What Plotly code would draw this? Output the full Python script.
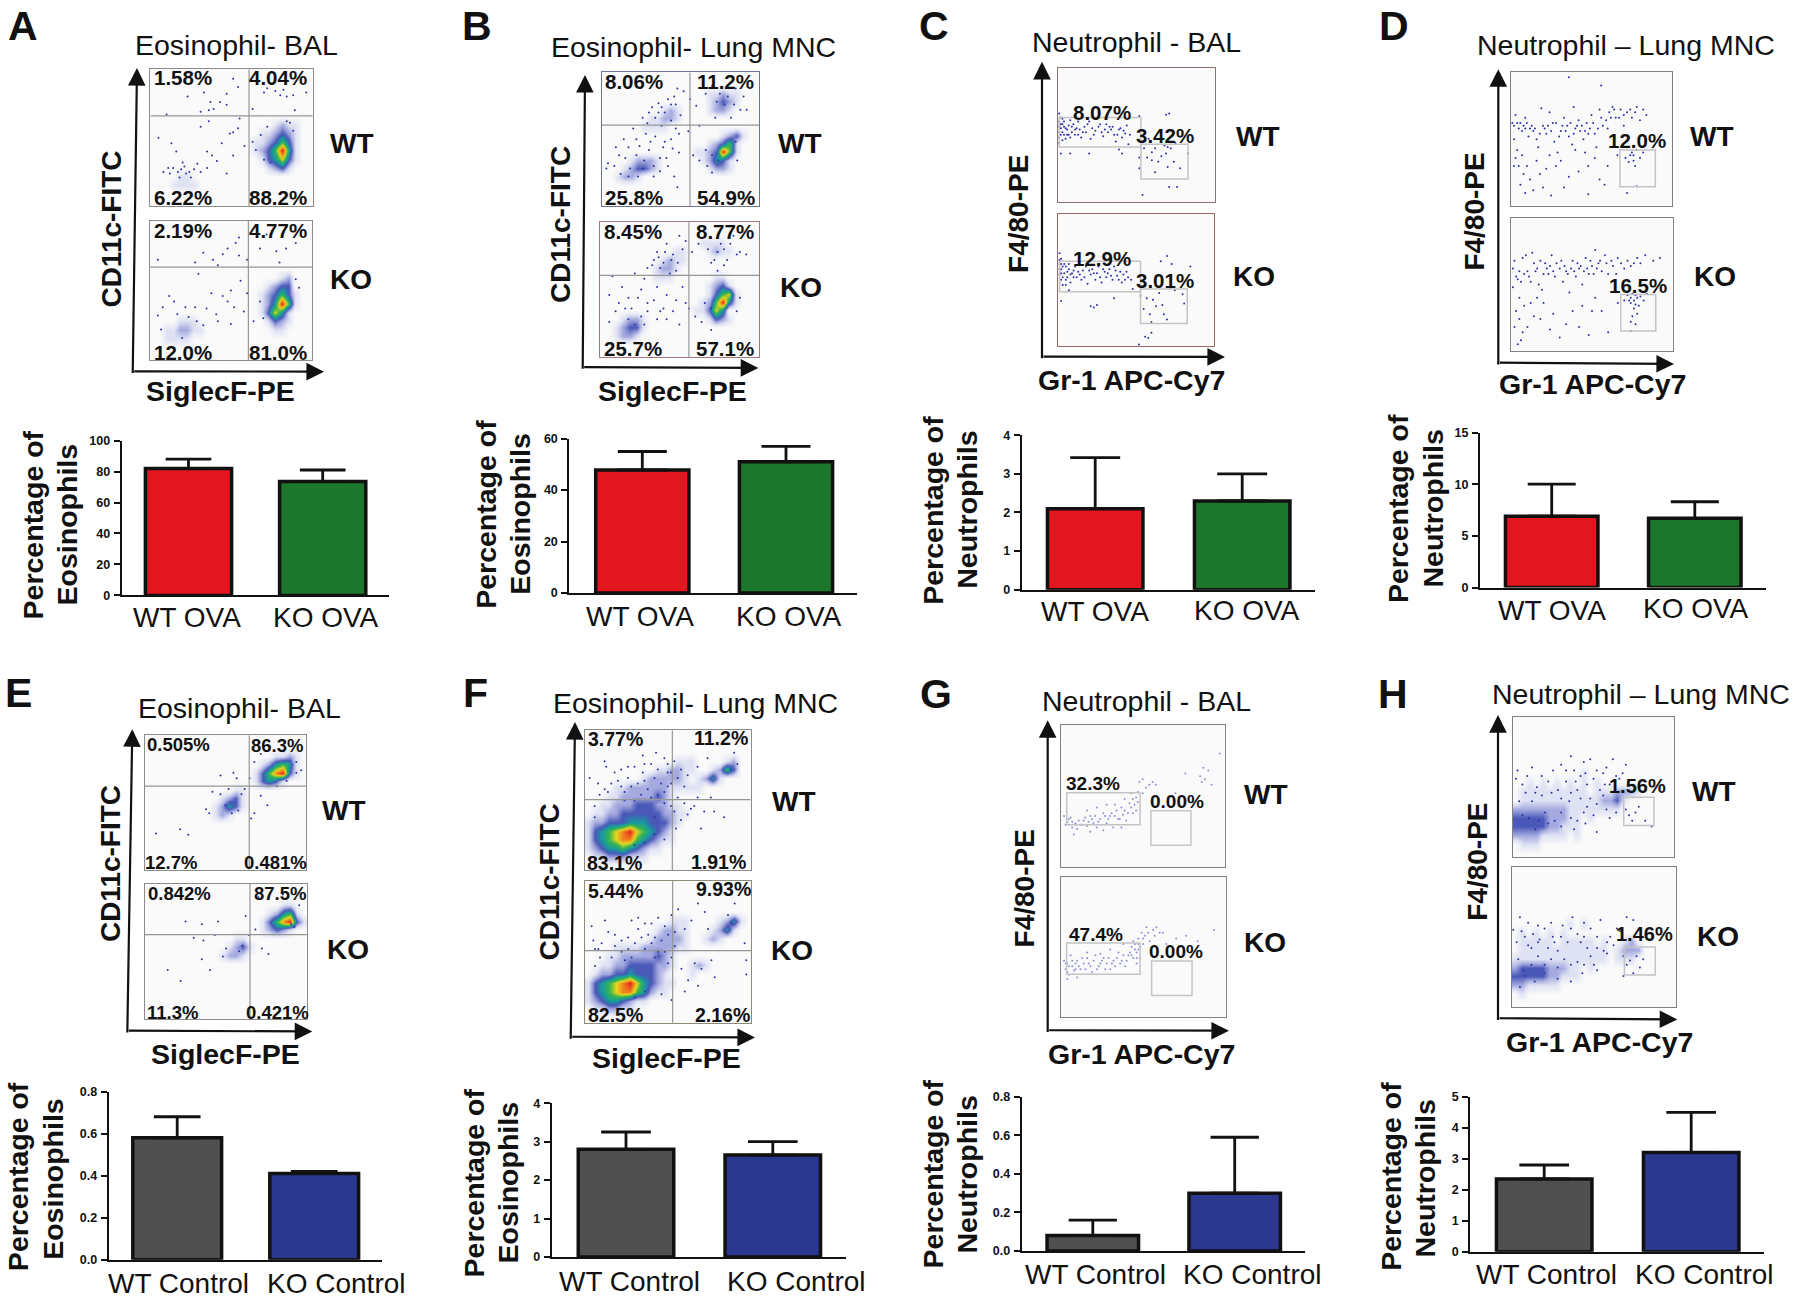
import plotly.graph_objects as go

W, H = 1800, 1301
SANS = "Liberation Sans"

# ---------- bar chart data ----------
OVA_CATS = ["WT OVA", "KO OVA"]
CTRL_CATS = ["WT Control", "KO Control"]
OVA_COLORS = ["#e3151f", "#1c762b"]
CTRL_COLORS = ["#505050", "#2c388f"]

A_MEAN = [82, 73.5];  A_TOP = [88, 81];   A_TICKS = [0, 20, 40, 60, 80, 100]
B_MEAN = [47.8, 51];  B_TOP = [55, 57];   B_TICKS = [0, 20, 40, 60]
C_MEAN = [2.1, 2.3];  C_TOP = [3.42, 3.0]; C_TICKS = [0, 1, 2, 3, 4]
D_MEAN = [6.9, 6.7];  D_TOP = [10, 8.3];  D_TICKS = [0, 5, 10, 15]
E_MEAN = [0.58, 0.41]; E_TOP = [0.68, 0.42]; E_TICKS = ["0.0", "0.2", "0.4", "0.6", "0.8"]
F_MEAN = [2.8, 2.65]; F_TOP = [3.25, 3.0]; F_TICKS = [0, 1, 2, 3, 4]
G_MEAN = [0.08, 0.30]; G_TOP = [0.16, 0.59]; G_TICKS = ["0.0", "0.2", "0.4", "0.6", "0.8"]
H_MEAN = [2.35, 3.2]; H_TOP = [2.8, 4.5]; H_TICKS = [0, 1, 2, 3, 4, 5]

# ---------- flow plot labels ----------
A_WT_PCT = ["1.58%", "4.04%", "6.22%", "88.2%"]; A_KO_PCT = ["2.19%", "4.77%", "12.0%", "81.0%"]
B_WT_PCT = ["8.06%", "11.2%", "25.8%", "54.9%"]; B_KO_PCT = ["8.45%", "8.77%", "25.7%", "57.1%"]
C_WT_PCT = ["8.07%", "3.42%"]; C_KO_PCT = ["12.9%", "3.01%"]
D_WT_PCT = ["12.0%"]; D_KO_PCT = ["16.5%"]
E_WT_PCT = ["0.505%", "86.3%", "12.7%", "0.481%"]; E_KO_PCT = ["0.842%", "87.5%", "11.3%", "0.421%"]
F_WT_PCT = ["3.77%", "11.2%", "83.1%", "1.91%"]; F_KO_PCT = ["5.44%", "9.93%", "82.5%", "2.16%"]
G_WT_PCT = ["32.3%", "0.00%"]; G_KO_PCT = ["47.4%", "0.00%"]
H_WT_PCT = ["1.56%"]; H_KO_PCT = ["1.46%"]

# ---------- density: 24 columns by up to 16 rows, top row first ----------
A_WT_GRID = ["", "", "", "", "", "", "..................1211", "................112321", "...............1123531",
             "...............1235841", "................134631", ".................1231", "....11", "...1111"]
A_KO_GRID = ["", "", "", "", "", "", "...................12", ".................1233", "................123531",
             "................124851", "................13641", "....111..........1321", "..112211..........11", "..1111"]
B_WT_GRID = ["", "", "................11211", "................12321", ".........121....1221", ".......11221", "......1111",
             "..................1231", "................12351", "..............1123851", "....12221......12431",
             "...123321.......1221", "..1221"]
B_KO_GRID = ["", "", "...............1111", "...........11...1211", ".........1211", "........1221", "........111......11",
             "................1231", "................13561", "...............125841", "..............11364", "...1221.........1321",
             "..12331", "..1221"]
E_WT_GRID = ["", "", "...................1121", ".................124541", "................1357831", "................13431",
             ".............11", "...........1231", "..........12431", "..........121"]
E_KO_GRID = ["", "", "....................11", "..................12451", ".................1357831", ".................12321",
             ".............11", "............1231", "...........1221"]
F_WT_GRID = ["", "", "", ".............111....12", "..........112211..1253", "........1222221.1241", "....1122222211111",
             "...1122222321", "..112223332211", ".11223333332211", "12233344433321", "1345678654321", "1345677543211",
             "12344543211", ".11222111"]
F_KO_GRID = ["", "", "", "", "............111....1241", "..........12211...1241", ".........122221..121",
             "....11112222211", "...1122222321", "..11223333221..121", ".12233433321...1", "1345678643211", "134567754211",
             "123443211", ".112211"]
H_WT_GRID = ["", "", "", "", "", "", "..........1", "..1.1.1.1.1.1", ".1111111111.1112221", ".1111111111112231",
             "2222222211111111", "3333322211.1", "3333322111", "22221111.1", ".111"]
H_KO_GRID = ["", "", "", "", "", "", "........1.1", ".1.1.1.1.", ".11111.11111.1..12", ".1111111111111.1222",
             "11111111111111.111", "2333322211.1", "3333322111", "2211111", ".1"]

# ---------- single events: (percent across, percent up) ----------
A_WT_DOTS = [(51,93),(54,87),(33,83),(47,82),(37,76),(43,76),(47,74),(36,70),(31,69),(39,71),(23,80),(10,67),(70,83),(80,81),(84,80),(72,86),
             (77,84),(88,81),(63,71),(89,70),(96,83),(82,85),(54,57),(49,53),(51,54),(31,58),(36,62),(55,64),(44,46),(35,40),(51,37),(13,46),
             (5,50),(16,40),(14,28),(19,27),(22,24),(25,21),(8,25),(12,24),(18,21),(29,31),(31,25),(20,32),(35,28),(47,24),(63,47),(65,41),
             (70,34),(88,55),(86,61),(74,32),(17,25),(21,29),(27,27),(11,28),(24,25),(41,33),(38,37),(58,44),(68,52),(72,58),(84,62)]
A_KO_DOTS = [(55,88),(53,84),(48,80),(45,76),(39,72),(33,77),(28,70),(5,72),(42,68),(68,80),(78,78),(84,80),(90,84),(72,90),(60,72),(55,75),
             (30,62),(50,50),(56,57),(60,48),(45,46),(48,42),(38,48),(28,38),(12,46),(8,38),(5,32),(52,38),(58,35),(64,28),(90,58),(92,52),
             (68,42),(70,30),(80,70),(17,33),(24,31),(29,28),(33,25),(7,22),(20,16),(41,33),(35,37),(42,28),(15,42),(22,38),(50,26)]
B_WT_DOTS = [(48,88),(52,86),(42,80),(36,77),(47,76),(30,70),(26,66),(38,74),(50,68),(44,64),(20,58),(14,50),(9,44),(4,32),(3,28),(24,45),
             (34,52),(40,48),(45,43),(49,40),(30,42),(37,36),(8,30),(15,36),(42,30),(46,22),(48,14),(55,56),(58,38),(62,34),(67,30),(70,25),
             (72,66),(73,78),(66,84),(70,90),(82,66),(88,72),(90,82),(85,88),(92,72),(86,34),(60,75),(56,80),(28,54),(18,28),(12,24),(33,22),
             (26,28),(41,36),(47,58),(38,60),(31,48),(22,38),(62,60),(85,48),(32,74),(36,70),(40,70),(44,76),(46,82),(34,66),(29,62),(22,50),
             (17,44),(11,38),(27,34),(33,30),(37,26),(23,22),(17,22),(39,44),(44,50),(49,54),(66,42),(70,38),(74,34),(78,76),(84,76),(75,84),(80,82)]
B_KO_DOTS = [(50,90),(54,86),(42,84),(36,78),(46,76),(40,70),(34,72),(30,66),(48,64),(44,62),(22,62),(8,60),(14,52),(6,46),(18,44),(26,50),
             (36,52),(42,46),(48,42),(54,40),(30,40),(38,34),(22,24),(10,34),(6,26),(42,28),(50,24),(56,36),(60,30),(64,26),(72,72),(68,80),
             (76,84),(84,90),(88,78),(92,76),(80,72),(74,64),(58,78),(62,84),(88,44),(86,34),(70,20),(16,36),(26,30),(34,42),(52,52),(28,58),
             (37,74),(41,78),(45,72),(49,70),(52,80),(33,68),(38,66),(12,40),(20,36),(24,44),(30,34),(36,28),(40,36),(46,34),(18,28),(28,24),
             (66,40),(70,36),(74,78),(78,80),(82,84),(86,76),(70,70),(78,68)]
C_WT_DOTS = [(1,66),(2,63),(1,60),(3,58),(2,55),(1,52),(3,52),(4,60),(5,55),(6,50),(7,57),(8,61),(9,52),(10,58),(11,50),(12,55),(13,60),(14,54),
             (15,48),(17,56),(18,52),(20,60),(21,47),(23,50),(25,63),(26,56),(28,52),(29,49),(31,58),(33,56),(34,54),(36,50),(37,45),(39,54),(41,48),
             (43,51),(44,57),(45,43),(46,50),(3,46),(5,47),(8,48),(2,36),(8,36),(20,36),(39,39),(41,36),(52,64),(58,47),(55,40),(57,33),(60,37),(62,40),
             (64,30),(66,34),(68,42),(69,36),(70,26),(72,40),(75,44),(74,30),(78,25),(70,41),(52,33),(52,25),(62,22),(60,31),(71,11),(76,11),(54,5),(69,65),(71,66),(83,36),
             (1,56),(2,58),(1,48),(2,50),(3,62),(4,50),(4,56),(6,54),(7,50),(9,56),(11,54),(13,50),(16,52),(19,58),(22,55),(24,53),(27,58),(30,54),(32,52),(35,56),(38,50),(40,55),(42,53),(1,44)]
C_KO_DOTS = [(1,70),(1,65),(2,62),(1,58),(3,60),(2,55),(4,55),(2,50),(3,46),(5,60),(6,52),(7,58),(8,48),(9,55),(11,60),(12,52),(13,56),(15,50),
             (16,57),(18,60),(19,47),(21,54),(22,58),(24,50),(25,55),(26,60),(28,48),(30,56),(31,52),(33,58),(35,50),(36,60),(38,53),(40,56),(41,48),
             (43,50),(45,52),(47,50),(5,46),(7,42),(2,34),(21,30),(23,29),(25,31),(36,36),(48,43),(53,38),(55,28),(57,36),(59,24),(60,18),(61,35),(63,30),
             (65,40),(67,31),(68,24),(70,20),(72,44),(75,42),(80,39),(81,32),(56,7),(58,6),(52,1),(60,10),(66,64),(70,68),(73,62),(85,60),
             (1,62),(2,58),(1,54),(2,66),(3,52),(4,62),(5,50),(6,56),(7,62),(8,54),(10,52),(10,57),(14,54),(17,52),(20,57),(23,55),(27,52),(29,58),(32,55),(34,53),(37,57),(39,50),(42,54),(44,56)]
D_WT_DOTS = [(1,62),(3,68),(2,50),(5,58),(6,62),(8,60),(9,66),(4,42),(7,38),(10,30),(11,52),(12,58),(14,56),(16,50),(17,44),(19,73),(20,60),(22,54),(24,70),(26,62),
             (27,48),(29,40),(31,56),(33,66),(35,60),(36,52),(38,46),(39,74),(40,58),(42,64),(43,56),(45,50),(47,62),(49,58),(50,68),(52,54),(53,44),(55,72),(57,60),
             (59,64),(61,70),(63,74),(65,66),(68,72),(72,70),(75,66),(78,74),(80,64),(84,68),(70,60),(2,30),(6,16),(9,10),(14,12),(20,14),(25,8),(22,28),(28,30),(36,22),
             (42,26),(48,30),(55,20),(58,16),(48,9),(36,96),(56,90),(72,44),(74,38),(75,40),(76,38),(78,42),(76,34),(80,36),(73,33),(71,36),(82,40),(77,30),(78,15),(72,10),(66,38),
             (2,60),(4,62),(7,56),(9,58),(10,62),(13,60),(15,58),(18,54),(21,58),(23,60),(25,56),(28,62),(30,52),(32,60),(34,56),(37,62),(39,54),(41,60),(44,60),(46,56),(48,54),(51,62),
             (54,58),(56,66),(60,58),(62,66),(64,72),(67,66),(70,68),(74,72),(77,70),(82,72),(3,36),(5,30),(8,24),(12,20),(16,34),(18,24),(24,38),(31,34),(33,14),(40,42),(46,40),(52,36),(60,30)]
D_KO_DOTS = [(1,62),(2,68),(1,48),(4,54),(6,52),(7,70),(9,72),(5,40),(3,30),(2,18),(8,34),(11,56),(13,74),(15,60),(17,50),(19,46),(21,66),(23,58),(25,72),(27,56),
             (30,62),(32,52),(34,60),(36,44),(38,68),(40,56),(42,62),(44,50),(46,70),(48,58),(50,64),(52,76),(54,66),(56,60),(58,72),(60,58),(62,68),(66,70),(70,62),(74,64),
             (78,70),(83,72),(88,68),(92,70),(10,18),(14,26),(18,24),(24,16),(30,10),(34,20),(44,34),(50,30),(48,12),(56,30),(60,14),(66,36),(72,42),(74,40),(75,43),(76,38),
             (78,40),(74,36),(77,35),(79,34),(80,41),(76,32),(78,28),(75,26),(74,22),(77,20),(74,15),(82,38),(84,43),(70,38),(4,5),(6,8),
             (3,56),(5,60),(8,58),(10,60),(12,52),(14,66),(16,62),(18,68),(20,58),(22,62),(24,64),(26,60),(28,66),(31,68),(33,64),(35,58),(37,62),(39,60),(41,66),(43,64),(45,60),(47,62),
             (49,68),(51,58),(53,62),(55,68),(59,66),(63,64),(65,58),(68,66),(72,68),(76,66),(80,66),(5,24),(7,14),(12,36),(16,40),(20,36),(26,28),(38,30),(42,18),(52,40),(73,38),(77,42)]
E_WT_DOTS = [(55,72),(57,68),(52,60),(42,58),(47,56),(40,42),(38,45),(50,48),(54,42),(58,44),(66,38),(68,42),(72,55),(76,48),(82,62),(88,66),(94,80),(97,74),
             (62,60),(65,68),(68,80),(94,72),(7,27),(27,26),(22,30),(60,56),(47,70),(86,88),(72,86)]
E_KO_DOTS = [(45,72),(35,70),(25,72),(43,62),(30,60),(36,58),(50,52),(48,46),(40,36),(35,44),(60,54),(64,62),(68,66),(72,52),(92,68),(95,84),(90,70),(62,76),
             (14,36),(22,28),(58,50),(70,90),(85,92),(76,48)]
F_WT_DOTS = [(3,66),(8,62),(13,74),(18,70),(9,54),(14,56),(22,60),(26,66),(30,74),(35,70),(40,76),(44,72),(48,80),(50,70),(52,62),(54,78),(58,72),(62,68),(68,74),
             (74,80),(90,84),(92,76),(56,52),(60,48),(64,44),(62,40),(66,46),(72,42),(78,42),(84,38),(70,30),(55,30),(48,22),(42,26),(36,20),(30,18),(12,78),(6,46),(54,42),
             (58,36),(68,52),(76,52),(50,60),(43,84),(35,82),(6,38),(88,72),(80,90),(24,50),(42,38),
             (20,64),(24,56),(28,60),(32,62),(36,64),(38,58),(42,66),(46,62),(48,56),(52,70),(56,66),(60,60),(30,50),(34,54),(40,52),(44,54),(48,48),(52,46),(26,74),(22,72),(16,62),(12,58),(36,76),(50,76)]
F_KO_DOTS = [(5,58),(9,46),(14,64),(18,54),(8,52),(22,50),(26,60),(28,72),(32,66),(36,52),(40,56),(44,74),(48,68),(52,76),(56,80),(60,66),(64,72),(68,84),(72,78),
             (90,84),(88,70),(54,54),(58,38),(62,30),(66,42),(70,38),(76,44),(78,32),(68,26),(60,22),(52,16),(46,20),(36,22),(30,18),(6,40),(4,68),(50,42),(86,76),(96,56),(97,44),(97,34),
             (42,46),(24,44),(12,72),(74,66),
             (18,62),(22,58),(26,52),(30,56),(34,60),(38,62),(42,60),(46,58),(50,62),(54,64),(40,70),(36,70),(32,74),(48,50),(52,46),(44,50),(28,46),(16,46),(10,56),(6,52)]
G_WT_DOTS = [(2,36),(4,32),(5,30),(7,28),(9,31),(6,35),(10,27),(12,30),(14,33),(16,29),(18,36),(20,31),(22,28),(24,34),(26,38),(28,31),(30,36),(32,28),(34,40),(36,34),(38,37),(40,33),
             (42,45),(44,38),(46,49),(39,48),(33,44),(28,44),(22,42),(16,40),(47,53),(43,52),(48,60),(50,62),(52,56),(54,58),(56,60),(58,58),(50,52),(60,48),(68,50),(70,52),(74,50),(76,66),
             (85,64),(86,60),(88,62),(90,68),(92,58),(87,70),(97,80),(8,23),(18,25),(26,26),(37,28),
             (3,30),(5,34),(7,32),(9,30),(11,33),(13,30),(15,35),(17,32),(19,34),(21,36),(23,32),(25,30),(27,36),(29,34),(31,38),(33,36),(35,34),(37,42),(39,40),(41,38),(43,42),(45,44),(46,40),(47,46),(44,48)]
G_KO_DOTS = [(2,40),(3,34),(4,38),(5,30),(6,44),(8,33),(9,38),(11,36),(13,42),(15,34),(17,38),(19,32),(21,44),(23,36),(25,40),(27,34),(29,42),(31,38),(33,36),(35,46),(37,40),(39,36),(41,44),
             (43,50),(44,42),(45,52),(46,46),(47,56),(48,50),(46,38),(38,52),(30,48),(50,52),(51,58),(52,64),(53,60),(54,54),(56,62),(57,58),(58,64),(60,60),(62,60),(64,52),(70,56),(76,58),(83,54),(93,62),
             (48,42),(24,45),(16,46),(4,27),(10,28),
             (3,38),(4,32),(5,36),(7,36),(7,40),(9,34),(10,40),(12,34),(14,38),(16,42),(18,36),(20,40),(22,34),(24,38),(26,42),(28,38),(30,34),(32,40),(34,42),(36,38),(38,44),(40,40),(42,46),(43,44),(45,48),(47,48),(46,42),(44,54),(47,52),(49,60),(50,56)]
H_WT_DOTS = [(3,62),(2,56),(6,52),(9,58),(12,64),(15,50),(18,58),(22,54),(25,62),(28,48),(30,66),(33,54),(36,72),(38,62),(40,48),(42,58),(44,68),(46,52),(48,70),(50,56),(52,62),
             (54,48),(56,60),(48,42),(38,20),(45,24),(52,18),(14,20),(22,24),(30,22),(58,34),(60,28),(64,32),(66,56),(68,60),(70,34),(72,30),(74,26),(76,32),(78,36),(82,26),(86,22),
             (70,66),(73,55),(62,70),(58,64),(57,52),(50,30),(35,40),(12,40),
             (6,30),(10,28),(16,26),(20,32),(26,26),(30,32),(36,28),(40,26),(44,32),(18,44),(24,46),(30,42),(36,46),(42,42),(46,36),(52,38),(56,44),(60,52),(64,58),(8,46),(4,40),(14,46),(33,62),(39,54),(45,60)]
H_KO_DOTS = [(1,55),(3,46),(6,54),(8,50),(10,44),(13,52),(17,48),(20,56),(22,42),(25,50),(28,40),(31,58),(34,46),(37,64),(40,52),(42,46),(44,60),(46,42),(48,56),(50,30),(52,50),
             (54,62),(56,40),(58,46),(60,50),(43,24),(36,18),(28,20),(20,24),(14,18),(8,22),(52,26),(62,44),(66,54),(68,36),(70,30),(72,33),(74,24),(76,36),(80,34),(78,28),(68,22),
             (74,62),(70,64),(64,56),(5,14),(5,64),
             (4,34),(7,26),(12,30),(16,36),(20,30),(24,34),(28,28),(32,34),(36,30),(40,32),(44,30),(48,36),(12,42),(16,46),(26,46),(30,50),(36,56),(44,50),(52,42),(58,38),(24,60),(16,58),(10,60)]

# ---------- gates, in percent of each flow plot: (x0, x1, y0, y1) ----------
C_WT_GATES = [(1, 53, 41, 63), (53, 83, 17, 43)]
C_KO_GATES = [(1, 53, 41, 64), (53, 83, 17, 43)]
D_WT_GATES = [(67.6, 89.5, 14.6, 42)]
D_KO_GATES = [(67.8, 89.5, 15, 42.5)]
G_WT_GATES = [(3.7, 48.4, 30, 52.4), (55, 79.4, 15.5, 39.7)]
G_KO_GATES = [(3.6, 48.1, 30.4, 52.7), (55.1, 79.6, 15.2, 39.8)]
H_WT_GATES = [(68.7, 87.4, 22.6, 42.9)]
H_KO_GATES = [(68.6, 87.4, 22.6, 42.7)]

# ---------- quadrant lines, percent across and up ----------
A_WT_Q = (60.8, 66); A_KO_Q = (60.8, 66.7)
B_WT_Q = (56, 60.6); B_KO_Q = (56, 60.6)
E_WT_Q = (64.8, 62.2); E_KO_Q = (64.7, 62.3)
F_WT_Q = (52.8, 50.6); F_KO_Q = (52.7, 50.8)

# ---------- page layout ----------
FLOWS = [
 dict(box=(150.3,312.7,56,168), grid=A_WT_GRID, dots=A_WT_DOTS, q=A_WT_Q, line="#8c8c8c", pct=A_WT_PCT, at=[(183,63),(278,63),(183,161),(278,161)], size=20.5),
 dict(box=(149.7,312,179.7,293.7), grid=A_KO_GRID, dots=A_KO_DOTS, q=A_KO_Q, line="#8c8c8c", pct=A_KO_PCT, at=[(183,188),(278,188),(183,287),(278,287)], size=20.5),
 dict(box=(601.7,759.3,58.7,167.7), grid=B_WT_GRID, dots=B_WT_DOTS, q=B_WT_Q, line="#6b7398", pct=B_WT_PCT, at=[(634,66),(725.7,66),(634.3,160.7),(725.7,160.7)], size=20.5),
 dict(box=(599.7,759,181,291), grid=B_KO_GRID, dots=B_KO_DOTS, q=B_KO_Q, line="#a07878", pct=B_KO_PCT, at=[(632.7,188.7),(725,188.7),(632.7,283.7),(725,283.7)], size=20.5),
 dict(box=(1057.7,1214.7,55,164.3), dots=C_WT_DOTS, gates=C_WT_GATES, line="#8a7470", pct=C_WT_PCT, at=[(1101.7,91.7),(1165,110)], size=20.5),
 dict(box=(1058,1213.7,174,282), dots=C_KO_DOTS, gates=C_KO_GATES, line="#9a6a66", pct=C_KO_PCT, at=[(1102.3,210.7),(1165,228.7)], size=20.5),
 dict(box=(1510.7,1672.3,58.3,168), dots=D_WT_DOTS, gates=D_WT_GATES, line="#808080", pct=D_WT_PCT, at=[(1637.3,114.3)], size=20.5),
 dict(box=(1511.3,1672.7,177.7,286), dots=D_KO_DOTS, gates=D_KO_GATES, line="#808080", pct=D_KO_PCT, at=[(1638,232.3)], size=20.5),
 dict(box=(144.7,306,721.7,833.7), grid=E_WT_GRID, dots=E_WT_DOTS, q=E_WT_Q, line="#8c8c8c", pct=E_WT_PCT, at=[(178.3,729.3),(277.3,730),(171,827.7),(275,827.7)], size=18.5),
 dict(box=(145,307.3,845.3,957.7), grid=E_KO_GRID, dots=E_KO_DOTS, q=E_KO_Q, line="#8c8c8c", pct=E_KO_PCT, at=[(179,853.3),(280,853.3),(172.3,952.7),(277.7,952.7)], size=18.5),
 dict(box=(584.7,750.7,717.7,834.3), grid=F_WT_GRID, dots=F_WT_DOTS, q=F_WT_Q, line="#8c8c8c", pct=F_WT_PCT, at=[(615.7,725),(720.7,724.3),(614,828.3),(718.7,827.3)], size=19.5),
 dict(box=(585,751.3,843,961), grid=F_KO_GRID, dots=F_KO_DOTS, q=F_KO_Q, line="#8f8a78", pct=F_KO_PCT, at=[(615.7,851),(723.3,850),(615,954.3),(722,954.3)], size=19.5),
 dict(box=(1060.7,1224.7,713.3,831.7), dots=G_WT_DOTS, gates=G_WT_GATES, line="#808080", pct=G_WT_PCT, at=[(1092.7,762.3),(1177.3,776.7)], size=19, pale=True),
 dict(box=(1060.7,1225.7,839.7,956), dots=G_KO_DOTS, gates=G_KO_GATES, line="#808080", pct=G_KO_PCT, at=[(1095.7,887.3),(1176,902)], size=19, pale=True),
 dict(box=(1512.7,1674.3,706.7,823.3), grid=H_WT_GRID, dots=H_WT_DOTS, gates=H_WT_GATES, line="#808080", pct=H_WT_PCT, at=[(1637.7,764.3)], size=20),
 dict(box=(1511.7,1676,831.3,947.7), grid=H_KO_GRID, dots=H_KO_DOTS, gates=H_KO_GATES, line="#808080", pct=H_KO_PCT, at=[(1644,887.3)], size=20),
]

BARS = [
 dict(ax=(121.7,389,359.3,485.7), cats=OVA_CATS, colors=OVA_COLORS, mean=A_MEAN, top=A_TOP, ticks=A_TICKS, c=(188.5,322.7), w=89.7, cap=45.7, lab=[(187,504),(326,504)]),
 dict(ax=(569.3,857.3,357.7,483.7), cats=OVA_CATS, colors=OVA_COLORS, mean=B_MEAN, top=B_TOP, ticks=B_TICKS, c=(642.3,786), w=96.7, cap=49, lab=[(640,502.7),(789.3,502.7)]),
 dict(ax=(1021.7,1315.3,355,481), cats=OVA_CATS, colors=OVA_COLORS, mean=C_MEAN, top=C_TOP, ticks=C_TICKS, c=(1095.2,1242.2), w=99, cap=50, lab=[(1095,499),(1246.7,498.3)]),
 dict(ax=(1480,1766,352.7,479.3), cats=OVA_CATS, colors=OVA_COLORS, mean=D_MEAN, top=D_TOP, ticks=D_TICKS, c=(1551.7,1694.8), w=96, cap=48, lab=[(1552,497.7),(1696,496)]),
 dict(ax=(108.7,382.3,1018.3,1158.3), cats=CTRL_CATS, colors=CTRL_COLORS, mean=E_MEAN, top=E_TOP, ticks=E_TICKS, c=(177.2,314.2), w=92.3, cap=46.7, lab=[(178.7,1178.3),(336.7,1178.3)]),
 dict(ax=(551.7,846,1028,1156), cats=CTRL_CATS, colors=CTRL_COLORS, mean=F_MEAN, top=F_TOP, ticks=F_TICKS, c=(626,772.8), w=99, cap=49.7, lab=[(629,1176.7),(796,1176.7)]),
 dict(ax=(1021.7,1305.3,1022.7,1151), cats=CTRL_CATS, colors=CTRL_COLORS, mean=G_MEAN, top=G_TOP, ticks=G_TICKS, c=(1092.8,1234.7), w=95, cap=48.3, lab=[(1095.7,1170.7),(1252,1170.7)]),
 dict(ax=(1470.3,1764.3,1022.7,1151.7), cats=CTRL_CATS, colors=CTRL_COLORS, mean=H_MEAN, top=H_TOP, ticks=H_TICKS, c=(1544.2,1691.2), w=99, cap=49.7, lab=[(1546.7,1170.7),(1704.3,1170.7)]),
]

TITLES = [("Eosinophil- BAL",236,36),("Eosinophil- Lung MNC",693.3,37.7),("Neutrophil - BAL",1136,34),("Neutrophil \u2013 Lung MNC",1626,36),
          ("Eosinophil- BAL",239,699.3),("Eosinophil- Lung MNC",695.7,695),("Neutrophil - BAL",1146.7,693.3),("Neutrophil \u2013 Lung MNC",1641,687.3)]
LETTERS = [("A",23,21),("B",476.7,20.7),("C",934.3,20.7),("D",1394,20.7),("E",18.3,686.7),("F",475,686.7),("G",935.7,687.3),("H",1392.7,687.3)]
XLABELS = [("SiglecF-PE",220,319),("SiglecF-PE",672.7,319),("Gr-1 APC-Cy7",1131,310),("Gr-1 APC-Cy7",1592.3,313.3),
           ("SiglecF-PE",225,986.7),("SiglecF-PE",666,990),("Gr-1 APC-Cy7",1141.7,986.7),("Gr-1 APC-Cy7",1599,976.7)]
YLABELS = [("CD11c-FITC",112,187),("CD11c-FITC",560.7,182.7),("F4/80-PE",1018.3,174),("F4/80-PE",1475,172.3),
           ("CD11c-FITC",110,829),("CD11c-FITC",549.3,844),("F4/80-PE",1024,849.3),("F4/80-PE",1476.7,827.3)]
GENOTYPES = [("WT",352,117),("KO",351,228),("WT",800,116.7),("KO",801,234.3),("WT",1257.7,110.7),("KO",1254.3,225),("WT",1712.3,110.7),("KO",1715,225),
             ("WT",344.3,784),("KO",347.7,900),("WT",794,777.3),("KO",791.7,900.7),("WT",1266,770.7),("KO",1265,894),("WT",1714.3,769),("KO",1717.7,889)]
PCT_LAB = [("Percentage of",32.7,428),("Eosinophils",66.7,428),("Percentage of",485.7,419.3),("Eosinophils",519.7,419.3),
           ("Percentage of",932.7,416),("Neutrophils",966.7,416),("Percentage of",1398.3,415),("Neutrophils",1432.7,415),
           ("Percentage of",18.3,1089.3),("Eosinophils",52.3,1090.7),("Percentage of",474,1094),("Eosinophils",508,1094),
           ("Percentage of",932.7,1086.7),("Neutrophils",966.7,1087.7),("Percentage of",1391,1089.3),("Neutrophils",1425,1090.7)]
ARROWS = [((132.7,302.7),(137,55),(324,303)),((582.7,299.3),(585,60.7),(758.3,300)),((1042,290.7),(1042,50),(1225,291)),((1498.3,295.7),(1498.3,56),(1674,296.7)),
          ((127.3,967.7),(132.3,716.7),(312.3,968.3)),((570.7,972.7),(575,710.7),(755,973.3)),((1047.7,967.3),(1047.7,709.3),(1229,967.7)),((1498,957.3),(1498,705),(1677.3,958.3))]

LEVELS = [[0.0,"#fafafa"],[0.125,"#dfe2f3"],[0.25,"#a4aadf"],[0.375,"#4a58b8"],[0.5,"#179c9e"],[0.625,"#39b54f"],[0.75,"#e6d81f"],[0.875,"#f0801f"],[1.0,"#e61e1e"]]

# Layout values above were read on crops whose vertical scale differs by row.
def fy(y):
    return y * 1.238 - 6.5 if y < 650 else (670 + (y - 670) * 1.2072) * 1.0061 - 0.8
def px(x): return x / W
def py(y): return 1 - fy(y) / H

fig = go.Figure()
layout_axes, shapes, notes = {}, [], []
n = 0

def new_axes(box):
    global n
    n += 1
    x0, x1, y0, y1 = box
    xk = "xaxis" if n == 1 else f"xaxis{n}"
    yk = "yaxis" if n == 1 else f"yaxis{n}"
    xid = "x" if n == 1 else f"x{n}"
    yid = "y" if n == 1 else f"y{n}"
    return xk, yk, xid, yid, [px(x0), px(x1)], [py(y1), py(y0)]

def text(s, x, y, size, bold=False, angle=0):
    notes.append(dict(text=s, x=px(x), y=py(y), xref="paper", yref="paper", showarrow=False, xanchor="center", yanchor="middle",
                      textangle=angle, font=dict(family=SANS, size=size, color="#111111", weight=700 if bold else 400)))

for f in FLOWS:
    xk, yk, xid, yid, xd, yd = new_axes(f["box"])
    base = dict(range=[0, 100], showgrid=False, zeroline=False, showticklabels=False, ticks="", showline=True, mirror=True,
                linecolor=f["line"], linewidth=1.2, fixedrange=True)
    layout_axes[xk] = dict(base, domain=xd, anchor=yid)
    layout_axes[yk] = dict(base, domain=yd, anchor=xid)
    shapes.append(dict(type="rect", xref=xid, yref=yid, x0=0, x1=100, y0=0, y1=100, fillcolor="#fafafa", line=dict(width=0), layer="below"))
    if "grid" in f:
        rows = [r.ljust(24, ".")[:24] for r in f["grid"]]
        rows += ["." * 24] * (16 - len(rows))
        z = [[0 if c == "." else int(c) for c in r] for r in reversed(rows)]
        fig.add_trace(go.Heatmap(z=z, x=[(i + .5) * 100 / 24 for i in range(24)], y=[(i + .5) * 100 / 16 for i in range(16)],
                                 zmin=0, zmax=8, zsmooth="best", colorscale=LEVELS, showscale=False, hoverinfo="skip", xaxis=xid, yaxis=yid))
    fig.add_trace(go.Scatter(x=[p[0] for p in f["dots"]], y=[p[1] for p in f["dots"]], mode="markers", hoverinfo="skip",
                             marker=dict(size=2, color="#8f92d8" if f.get("pale") else "#2b31a8", line=dict(width=0)), xaxis=xid, yaxis=yid))
    if "q" in f:
        qx, qy = f["q"]
        for a, b, c, d in [(qx, qx, 0, 100), (0, 100, qy, qy)]:
            shapes.append(dict(type="line", xref=xid, yref=yid, x0=a, x1=b, y0=c, y1=d, line=dict(color="#969696", width=1.2), layer="above"))
    for g in f.get("gates", []):
        shapes.append(dict(type="rect", xref=xid, yref=yid, x0=g[0], x1=g[1], y0=g[2], y1=g[3], line=dict(color="#c4c4c4", width=1.5), layer="above"))
    for s, (x, y) in zip(f["pct"], f["at"]):
        text(s, x, y, f["size"], bold=True)

for b in BARS:
    left, right, top, bot = b["ax"]
    xk, yk, xid, yid, xd, yd = new_axes((left, right, top, bot))
    c1, c2 = b["c"]
    span = c2 - c1
    vals = [float(t) for t in b["ticks"]]
    fig.add_trace(go.Bar(x=b["cats"], y=b["mean"], width=(b["w"] - 3.5) / span, marker=dict(color=b["colors"], line=dict(color="#111111", width=3.5)),
                         error_y=dict(type="data", symmetric=False, array=[t - m for t, m in zip(b["top"], b["mean"])], arrayminus=[0, 0],
                                      color="#111111", thickness=2.8, width=b["cap"] / 2),
                         hoverinfo="skip", xaxis=xid, yaxis=yid))
    layout_axes[xk] = dict(domain=xd, anchor=yid, type="category", categoryorder="array", categoryarray=b["cats"],
                           range=[(left - c1) / span, (right - c1) / span], showgrid=False, zeroline=False, showticklabels=False, ticks="",
                           showline=True, linecolor="#111111", linewidth=2, fixedrange=True)
    layout_axes[yk] = dict(domain=yd, anchor=xid, range=[0, vals[-1]], tickmode="array", tickvals=vals, ticktext=[str(t) for t in b["ticks"]],
                           tickfont=dict(family=SANS, size=12.5, color="#111111", weight=700), ticks="outside", ticklen=6, tickwidth=1.8, tickcolor="#111111",
                           showgrid=False, zeroline=False, showline=True, linecolor="#111111", linewidth=2, fixedrange=True, ticklabelstandoff=1)
    for s, (x, y) in zip(b["cats"], b["lab"]):
        text(s, x, y, 28)

for s, x, y in TITLES: text(s, x, y, 28.5)
for s, x, y in LETTERS: text(s, x, y, 41, bold=True)
for s, x, y in XLABELS: text(s, x, y, 28.5, bold=True)
for s, x, y in YLABELS: text(s, x, y, 28, bold=True, angle=-90)
for s, x, y in GENOTYPES: text(s, x, y, 28, bold=True)
for s, x, y in PCT_LAB: text(s, x, y, 28.5, bold=True, angle=-90)

for corner, t, r in ARROWS:
    for tip in (t, r):
        notes.append(dict(text="", x=px(tip[0]), y=py(tip[1]), xref="paper", yref="paper", showarrow=True, arrowhead=2, arrowsize=1.6, arrowwidth=2.2,
                          arrowcolor="#111111", axref="pixel", ayref="pixel", ax=corner[0] - tip[0], ay=fy(corner[1]) - fy(tip[1])))

fig.update_layout(width=W, height=H, margin=dict(l=0, r=0, t=0, b=0, pad=0), paper_bgcolor="white", plot_bgcolor="white", showlegend=False,
                  shapes=shapes, annotations=notes, **layout_axes)
fig.write_html("out.html", config={"displayModeBar": False}, post_script="document.body.style.margin='0';document.body.style.overflow='hidden';")
